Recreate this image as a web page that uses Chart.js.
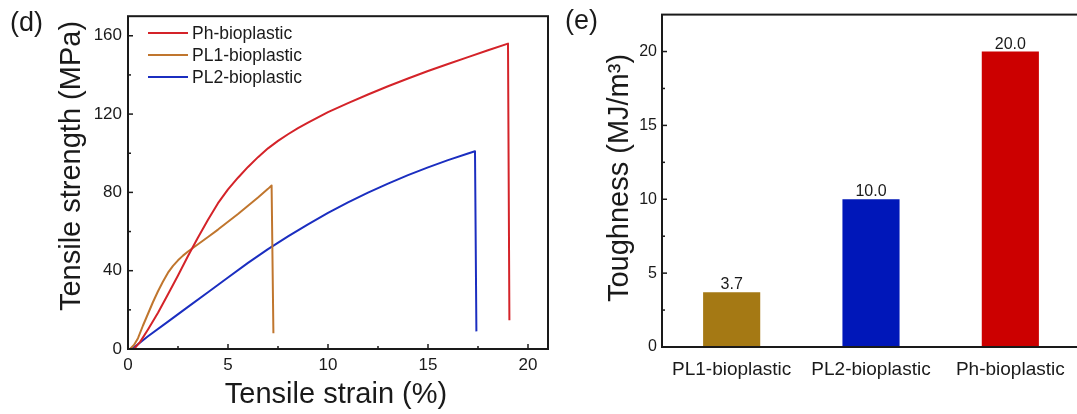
<!DOCTYPE html>
<html>
<head>
<meta charset="utf-8">
<script src="https://cdn.jsdelivr.net/npm/chart.js@4.4.1/dist/chart.umd.min.js"></script>
<style>
  html, body { margin: 0; padding: 0; background: #fff; overflow: hidden; }
  #wrap { position: relative; width: 1077px; height: 414px; overflow: hidden; }
  #strainChart { position: absolute; left: 0; top: 0; }
  #toughChart { position: absolute; left: 560px; top: 0; }
</style>
</head>
<body>
<div id="wrap">
  <canvas id="strainChart" width="560" height="414"></canvas>
  <canvas id="toughChart" width="520" height="414"></canvas>
</div>
<script>
// --- DATA ---
const phStrain  = [0.3, 0.6, 1.0, 1.5, 2.0, 2.5, 3.0, 3.5, 4.0, 4.5, 5.0, 5.5, 6.0, 6.5, 7.0, 7.5, 8.0, 8.5, 9.0, 10, 11, 12, 13, 14, 15, 16, 17, 18, 19.0, 19.07];
const phStress  = [0, 3.5, 10, 18.5, 28, 37.5, 47.5, 57, 66, 74.5, 81.5, 87.5, 93, 98, 102.5, 106.3, 109.7, 112.8, 115.6, 121, 125.6, 130, 134.2, 138.2, 142, 145.6, 149.1, 152.6, 156, 14.7];

const pl1Strain = [0.1, 0.3, 0.5, 0.75, 1.0, 1.25, 1.5, 1.75, 2.0, 2.25, 2.5, 2.75, 3.0, 3.5, 4.0, 4.5, 5.0, 5.5, 6.0, 6.5, 7.0, 7.18, 7.27];
const pl1Stress = [0, 2, 5.5, 12, 18, 24, 29.5, 34.5, 39, 42.5, 45.3, 47.7, 49.8, 53.5, 57.2, 61, 65, 69, 73.2, 77.4, 81.8, 83.5, 8];

const pl2Strain = [0.2, 1.0, 2.0, 3.0, 4.0, 5.0, 6.0, 7.0, 8.0, 9.0, 10, 11, 12, 13, 14, 15, 16, 17, 17.35, 17.42];
const pl2Stress = [0, 6.5, 14, 21.5, 29, 36.5, 44, 51, 57.5, 63.7, 69.5, 74.9, 79.9, 84.5, 88.8, 92.8, 96.5, 99.9, 101, 9];

const sampleNames = ['PL1-bioplastic', 'PL2-bioplastic', 'Ph-bioplastic'];
const toughness   = [3.7, 10.0, 20.0];

const strainTicks = [0, 5, 10, 15, 20];
const stressTicks = [0, 40, 80, 120, 160];
const toughTicks  = [0, 5, 10, 15, 20];

// --- COLOURS ---
const phColor  = '#d42329';
const pl1Color = '#c0762e';
const pl2Color = '#1b2ec0';
const barColors = ['#a57914', '#0017b9', '#cc0000'];

const FONT = "'Liberation Sans', Arial, sans-serif";
const INK = '#1a1a1a';

function toPoints(xs, ys) {
    return xs.map((x, i) => ({ x: x, y: ys[i] }));
}

// force the tick list exactly (Chart.js drops the last nice tick near max otherwise)
function setTicks(list) {
    return scale => { scale.ticks = list.map(v => ({ value: v })); };
}

// --- FRAME + INWARD TICKS ---
const framePlugin = {
    id: 'frame',
    afterDraw(chart, args, opts) {
        const { ctx, chartArea: a, scales } = chart;
        ctx.save();
        ctx.strokeStyle = INK;
        ctx.lineWidth = 2;
        ctx.strokeRect(a.left, a.top, a.right - a.left, a.bottom - a.top);
        ctx.lineWidth = 1.5;
        (opts.tickScales || []).forEach(id => {
            const s = scales[id];
            const vals = s.ticks.map(t => t.value);
            const step = vals[1] - vals[0];
            const minors = vals.map(v => v + step / 2).filter(v => v < s.max);
            const mark = (v, len) => {
                const p = s.getPixelForValue(v);
                ctx.beginPath();
                if (s.isHorizontal()) { ctx.moveTo(p, a.bottom); ctx.lineTo(p, a.bottom - len); }
                else { ctx.moveTo(a.left, p); ctx.lineTo(a.left + len, p); }
                ctx.stroke();
            };
            vals.forEach(v => mark(v, 5));
            minors.forEach(v => mark(v, 3));
        });
        ctx.restore();
    }
};

// --- TITLES AND PANEL LETTERS ---
const labelPlugin = {
    id: 'labels',
    afterDraw(chart, args, opts) {
        const ctx = chart.ctx;
        ctx.save();
        ctx.fillStyle = INK;
        ctx.textBaseline = 'alphabetic';
        ctx.font = `27px ${FONT}`;
        ctx.textAlign = 'left';
        ctx.fillText(opts.panel, opts.panelX, opts.panelY);
        ctx.font = `29px ${FONT}`;
        ctx.textAlign = 'center';
        if (opts.xTitle) ctx.fillText(opts.xTitle, opts.xTitleX, opts.xTitleY);
        ctx.translate(opts.yTitleX, opts.yTitleY);
        ctx.rotate(-Math.PI / 2);
        ctx.fillText(opts.yTitle, 0, 0);
        ctx.restore();
    }
};

// --- LEGEND INSIDE THE PLOT ---
const legendPlugin = {
    id: 'insideLegend',
    afterDraw(chart) {
        const ctx = chart.ctx;
        ctx.save();
        ctx.font = `17.5px ${FONT}`;
        ctx.textBaseline = 'middle';
        ctx.textAlign = 'left';
        chart.data.datasets.forEach((ds, i) => {
            const y = 33 + i * 22;
            ctx.strokeStyle = ds.borderColor;
            ctx.lineWidth = 2;
            ctx.beginPath();
            ctx.moveTo(148, y);
            ctx.lineTo(188, y);
            ctx.stroke();
            ctx.fillStyle = INK;
            ctx.fillText(ds.label, 192, y + 1);
        });
        ctx.restore();
    }
};

// --- VALUE LABELS ON BARS ---
const valuePlugin = {
    id: 'barValues',
    afterDatasetsDraw(chart) {
        const ctx = chart.ctx;
        const meta = chart.getDatasetMeta(0);
        ctx.save();
        ctx.font = `16px ${FONT}`;
        ctx.fillStyle = INK;
        ctx.textAlign = 'center';
        ctx.textBaseline = 'alphabetic';
        meta.data.forEach((bar, i) => {
            ctx.fillText(toughness[i].toFixed(1), bar.x, bar.y - 3);
        });
        ctx.restore();
    }
};

Chart.defaults.font.family = FONT;
Chart.defaults.color = INK;

// --- (d) STRESS-STRAIN CURVES ---
new Chart(document.getElementById('strainChart'), {
    type: 'scatter',
    data: {
        datasets: [
            { label: 'Ph-bioplastic', data: toPoints(phStrain, phStress), borderColor: phColor },
            { label: 'PL1-bioplastic', data: toPoints(pl1Strain, pl1Stress), borderColor: pl1Color },
            { label: 'PL2-bioplastic', data: toPoints(pl2Strain, pl2Stress), borderColor: pl2Color }
        ].map(ds => Object.assign(ds, {
            showLine: true, pointRadius: 0, borderWidth: 2, fill: false, tension: 0,
            borderJoinStyle: 'round'
        }))
    },
    options: {
        responsive: false,
        animation: false,
        devicePixelRatio: 1,
        layout: { padding: { top: 11, right: 12, left: 0, bottom: 0 } },
        plugins: {
            legend: { display: false },
            tooltip: { enabled: false },
            frame: { tickScales: ['x', 'y'] },
            labels: {
                panel: '(d)', panelX: 10, panelY: 31,
                xTitle: 'Tensile strain (%)', xTitleX: 336, xTitleY: 403,
                yTitle: 'Tensile strength (MPa)', yTitleX: 80, yTitleY: 166
            }
        },
        scales: {
            x: {
                type: 'linear', min: 0, max: 21,
                ticks: { padding: 6, font: { size: 17 } },
                grid: { display: false, drawTicks: false },
                border: { display: false },
                afterBuildTicks: setTicks(strainTicks),
                afterFit: s => { s.height = 65; }
            },
            y: {
                type: 'linear', min: 0, max: 170,
                ticks: { padding: 6, font: { size: 17 } },
                grid: { display: false, drawTicks: false },
                border: { display: false },
                afterBuildTicks: setTicks(stressTicks),
                afterFit: s => { s.width = 128; }
            }
        }
    },
    plugins: [framePlugin, labelPlugin, legendPlugin]
});

// --- (e) TOUGHNESS BARS ---
new Chart(document.getElementById('toughChart'), {
    type: 'bar',
    data: {
        labels: sampleNames,
        datasets: [{
            data: toughness,
            backgroundColor: barColors,
            borderWidth: 0,
            barPercentage: 0.41,
            categoryPercentage: 1
        }]
    },
    options: {
        responsive: false,
        animation: false,
        devicePixelRatio: 1,
        layout: { padding: { top: 10, right: 0, left: 0, bottom: 0 } },
        plugins: {
            legend: { display: false },
            tooltip: { enabled: false },
            frame: { tickScales: ['y'] },
            labels: {
                panel: '(e)', panelX: 5, panelY: 29,
                yTitle: 'Toughness (MJ/m\u00b3)', yTitleX: 68, yTitleY: 178
            }
        },
        scales: {
            x: {
                ticks: { padding: 11, font: { size: 19 } },
                grid: { display: false, drawTicks: false },
                border: { display: false },
                afterFit: s => { s.height = 67; }
            },
            y: {
                min: 0, max: 22.5,
                ticks: { padding: 5, font: { size: 16 } },
                grid: { display: false, drawTicks: false },
                border: { display: false },
                afterBuildTicks: setTicks(toughTicks),
                afterFit: s => { s.width = 102; }
            }
        }
    },
    plugins: [framePlugin, labelPlugin, valuePlugin]
});
</script>
</body>
</html>
